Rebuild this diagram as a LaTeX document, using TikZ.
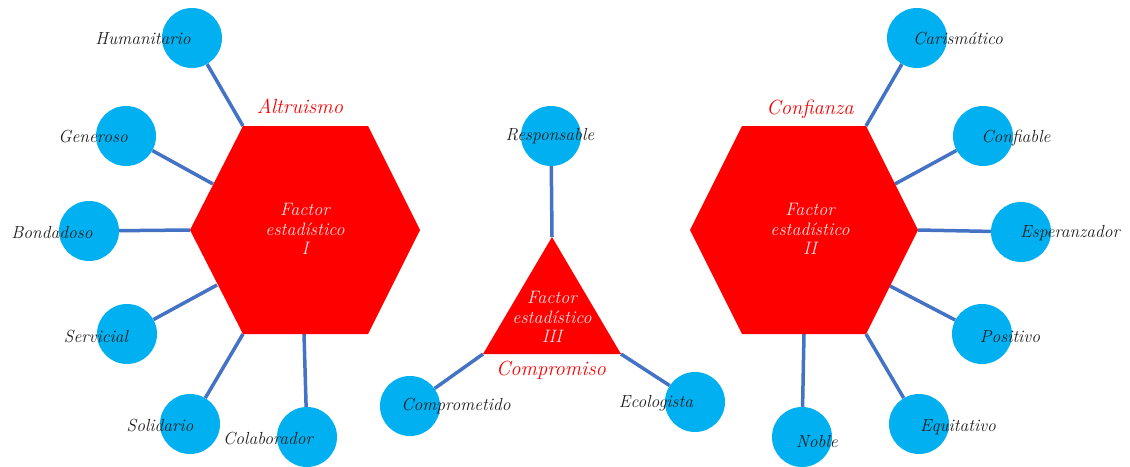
\documentclass[tikz,border=0pt]{standalone}
\usepackage{fontspec}
\definecolor{circ}{HTML}{00B0F0}
\definecolor{conn}{HTML}{4472C4}
\definecolor{hexred}{HTML}{FF0000}
\definecolor{lbl}{HTML}{1E1E1E}
\definecolor{inner}{HTML}{FBE0E0}
\tikzset{
  bubble/.style={circle, fill=circ, minimum size=60pt, inner sep=0pt},
  link/.style={draw=conn, line width=3.5pt},
  word/.style={anchor=base, text=lbl, inner sep=0pt, font=\fontsize{17.5}{20}\selectfont\itshape},
  factname/.style={anchor=base, text=hexred, inner sep=0pt, font=\fontsize{20.5}{23}\selectfont\itshape},
  facttext/.style={align=center, text=inner, inner sep=0pt, font=\fontsize{18}{19.5}\selectfont\itshape},
  shapefill/.style={fill=hexred}
}
\begin{document}
\begin{tikzpicture}[x=1pt,y=-1pt]
\useasboundingbox (0,0) rectangle (1130,466);
% hexagon I vertices
\coordinate (AL) at (190,230);
\coordinate (ATL) at (243,126);
\coordinate (ATR) at (368,126);
\coordinate (AR) at (420,230);
\coordinate (ABR) at (368,334);
\coordinate (ABL) at (243,334);
\coordinate (Agen) at (213,184);
\coordinate (Aser) at (217,285);
\coordinate (Acol) at (304,334);
% hexagon II vertices
\coordinate (BL) at (690,230);
\coordinate (BTL) at (742,126);
\coordinate (BTR) at (866,126);
\coordinate (BR) at (918,230);
\coordinate (BBR) at (866,334);
\coordinate (BBL) at (742,334);
\coordinate (Bconf) at (895,184);
\coordinate (Bpos) at (890,286);
\coordinate (Bnob) at (804,334);
% triangle III vertices
\coordinate (CT) at (552,237);
\coordinate (CBL) at (483,354);
\coordinate (CBR) at (621,354);

% bubbles
\node[bubble] (hum) at (192,38) {};
\node[bubble] (gen) at (126,136) {};
\node[bubble] (bon) at (89,231) {};
\node[bubble] (ser) at (127,334) {};
\node[bubble] (sol) at (190,424) {};
\node[bubble] (col) at (307,437) {};
\node[bubble] (car) at (917,38) {};
\node[bubble] (conf) at (983,136) {};
\node[bubble] (esp) at (1021,232) {};
\node[bubble] (pos) at (982,334) {};
\node[bubble] (equ) at (919,424) {};
\node[bubble] (nob) at (802,437) {};
\node[bubble] (res) at (551,136) {};
\node[bubble] (comp) at (410,406) {};
\node[bubble] (eco) at (695,402) {};

% connectors
\draw[link] (hum) -- (ATL);
\draw[link] (gen) -- (Agen);
\draw[link] (bon) -- (AL);
\draw[link] (ser) -- (Aser);
\draw[link] (sol) -- (ABL);
\draw[link] (col) -- (Acol);
\draw[link] (car) -- (BTR);
\draw[link] (conf) -- (Bconf);
\draw[link] (esp) -- (BR);
\draw[link] (pos) -- (Bpos);
\draw[link] (equ) -- (BBR);
\draw[link] (nob) -- (Bnob);
\draw[link] (res) -- (CT);
\draw[link] (comp) -- (CBL);
\draw[link] (eco) -- (CBR);

% shapes
\fill[shapefill] (AL) -- (ATL) -- (ATR) -- (AR) -- (ABR) -- (ABL) -- cycle;
\fill[shapefill] (BL) -- (BTL) -- (BTR) -- (BR) -- (BBR) -- (BBL) -- cycle;
\fill[shapefill] (CT) -- (CBR) -- (CBL) -- cycle;

% factor texts
\node[facttext] (f1) at (305,229) {Factor\\estadístico\\I};
\node[facttext] (f2) at (810,229) {Factor\\estadístico\\II};
\node[facttext] (f3) at (552,317) {Factor\\estadístico\\III};

\node[factname] (n1) at (300,113) {Altruismo};
\node[factname] (n2) at (810,114) {Confianza};
\node[factname] (n3) at (551,375) {Compromiso};

% words
\node[word] (thum) at (143,44) {Humanitario};
\node[word] (tgen) at (93,142) {Generoso};
\node[word] (tbon) at (52,238) {Bondadoso};
\node[word] (tser) at (96,342) {Servicial};
\node[word] (tsol) at (160,431) {Solidario};
\node[word] (tcol) at (268,444) {Colaborador};
\node[word] (tcar) at (958,44) {Carismático};
\node[word] (tconf) at (1016,142) {Confiable};
\node[word] (tesp) at (1070,237) {Esperanzador};
\node[word] (tpos) at (1010,342) {Positivo};
\node[word] (tequ) at (958,431) {Equitativo};
\node[word] (tnob) at (817,447) {Noble};
\node[word] (tres) at (550,140) {Responsable};
\node[word] (tcomp) at (456,410) {Comprometido};
\node[word] (teco) at (656,407) {Ecologista};
\end{tikzpicture}
\end{document}
